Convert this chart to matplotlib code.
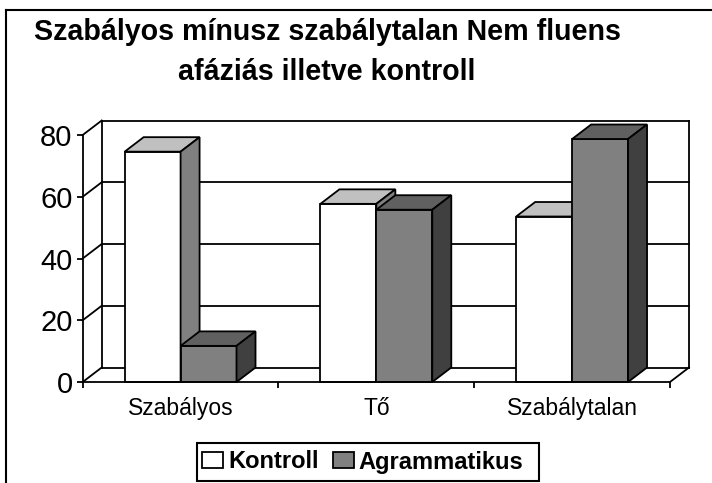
import matplotlib
matplotlib.use("Agg")
import matplotlib.pyplot as plt
from matplotlib.patches import Polygon, Patch, Rectangle
from matplotlib.lines import Line2D

# Adatok
categories = ["Szabályos", "Tő", "Szabálytalan"]
kontroll = [74.6, 57.7, 53.6]
agrammatikus = [11.7, 55.8, 78.7]
series_names = ["Kontroll", "Agrammatikus"]
yticks = [0, 20, 40, 60, 80]
title_lines = ["Szabályos mínusz szabálytalan Nem fluens", "afáziás illetve kontroll"]

plt.rcParams["font.family"] = ["Liberation Sans", "DejaVu Sans"]

W, H = 712, 483
fig = plt.figure(figsize=(W / 100, H / 100), dpi=100)
fig.patch.set_facecolor("white")

# Elülső sík: bal 82.7 px, jobb 670 px, 0 -> y=382, 80 -> y=135
left_px, right_px, bot_px, top_px = 82.7, 670.0, 382.0, 135.0
ax = fig.add_axes([left_px / W, 1 - bot_px / H, (right_px - left_px) / W, (bot_px - top_px) / H])
ax.set_xlim(0, len(categories))
ax.set_ylim(0, max(yticks))
ax.patch.set_visible(False)

lw = 1.3
# mélység eltolás pixelben -> adategység
ddx = 19 / (right_px - left_px) * len(categories)
ddy = 14.5 / (bot_px - top_px) * max(yticks)

# Hátsó fal és oldalfal rácsvonalai
for v in yticks:
    ax.plot([ddx, len(categories) + ddx], [v + ddy, v + ddy], color="black", lw=lw, clip_on=False, zorder=1)
    ax.plot([0, ddx], [v, v + ddy], color="black", lw=lw, clip_on=False, zorder=1)
ax.plot([ddx, ddx], [ddy, max(yticks) + ddy], color="black", lw=lw, clip_on=False, zorder=1)
ax.plot([len(categories) + ddx] * 2, [ddy, max(yticks) + ddy], color="black", lw=lw, clip_on=False, zorder=1)
ax.plot([len(categories), len(categories) + ddx], [0, ddy], color="black", lw=lw, clip_on=False, zorder=1)

# 3D oszlopok
bar_w = 0.2857
styles = [("white", "#c0c0c0", "#808080"), ("#808080", "#606060", "#404040")]
z = 2
for i in range(len(categories)):
    c = i + 0.5
    for j, vals in enumerate([kontroll, agrammatikus]):
        x0 = c - bar_w + j * bar_w
        x1 = x0 + bar_w
        v = vals[i]
        front, top, side = styles[j]
        faces = [
            ([(x0, 0), (x1, 0), (x1, v), (x0, v)], front),
            ([(x0, v), (x1, v), (x1 + ddx, v + ddy), (x0 + ddx, v + ddy)], top),
            ([(x1, 0), (x1 + ddx, ddy), (x1 + ddx, v + ddy), (x1, v)], side),
        ]
        for pts, col in faces:
            ax.add_patch(Polygon(pts, closed=True, facecolor=col, edgecolor="black",
                                 lw=lw, joinstyle="miter", clip_on=False, zorder=z))
        z += 1

# Tengelyek
for s in ["top", "right"]:
    ax.spines[s].set_visible(False)
for s in ["left", "bottom"]:
    ax.spines[s].set_linewidth(lw)
    ax.spines[s].set_zorder(z + 1)
ax.set_yticks(yticks)
ax.set_yticklabels([str(t) for t in yticks], fontsize=21)
ax.tick_params(axis="y", length=4.3, width=lw, pad=3, direction="out")
ax.set_xticks(range(len(categories) + 1))
ax.set_xticklabels([])
ax.set_xticks([i + 0.5 for i in range(len(categories))], minor=True)
ax.set_xticklabels(categories, minor=True, fontsize=16.5)
ax.tick_params(axis="x", which="major", length=4.3, width=lw, direction="out")
ax.tick_params(axis="x", which="minor", length=0, pad=11)

# Cím
fig.text(327 / W, 1 - 40 / H, title_lines[0], ha="center", va="baseline", fontsize=20.6, fontweight="bold")
fig.text(327 / W, 1 - 80 / H, title_lines[1], ha="center", va="baseline", fontsize=20.6, fontweight="bold")

# Jelmagyarázat (keret külön téglalapként)
fig.add_artist(Rectangle((197 / W, 1 - 481 / H), 342 / W, 38 / H, transform=fig.transFigure,
                         facecolor="white", edgecolor="black", lw=1.5, zorder=5))
handles = [Patch(facecolor=styles[k][0], edgecolor="black", lw=lw) for k in range(2)]
leg = fig.legend(handles, series_names, loc="center left", bbox_to_anchor=(202 / W, 1 - 462 / H),
                 ncol=2, frameon=False, prop={"size": 17, "weight": "bold"},
                 handlelength=0.9, handleheight=0.68, handletextpad=0.2, columnspacing=0.6,
                 borderpad=0, borderaxespad=0)
leg.set_zorder(6)

# Külső keret
fig.add_artist(Line2D([6 / W, 6 / W], [0, 1 - 10 / H], color="black", lw=1.5, transform=fig.transFigure))
fig.add_artist(Line2D([6 / W, 1], [1 - 10 / H, 1 - 10 / H], color="black", lw=1.5, transform=fig.transFigure))

fig.savefig("out.png", dpi=100)
